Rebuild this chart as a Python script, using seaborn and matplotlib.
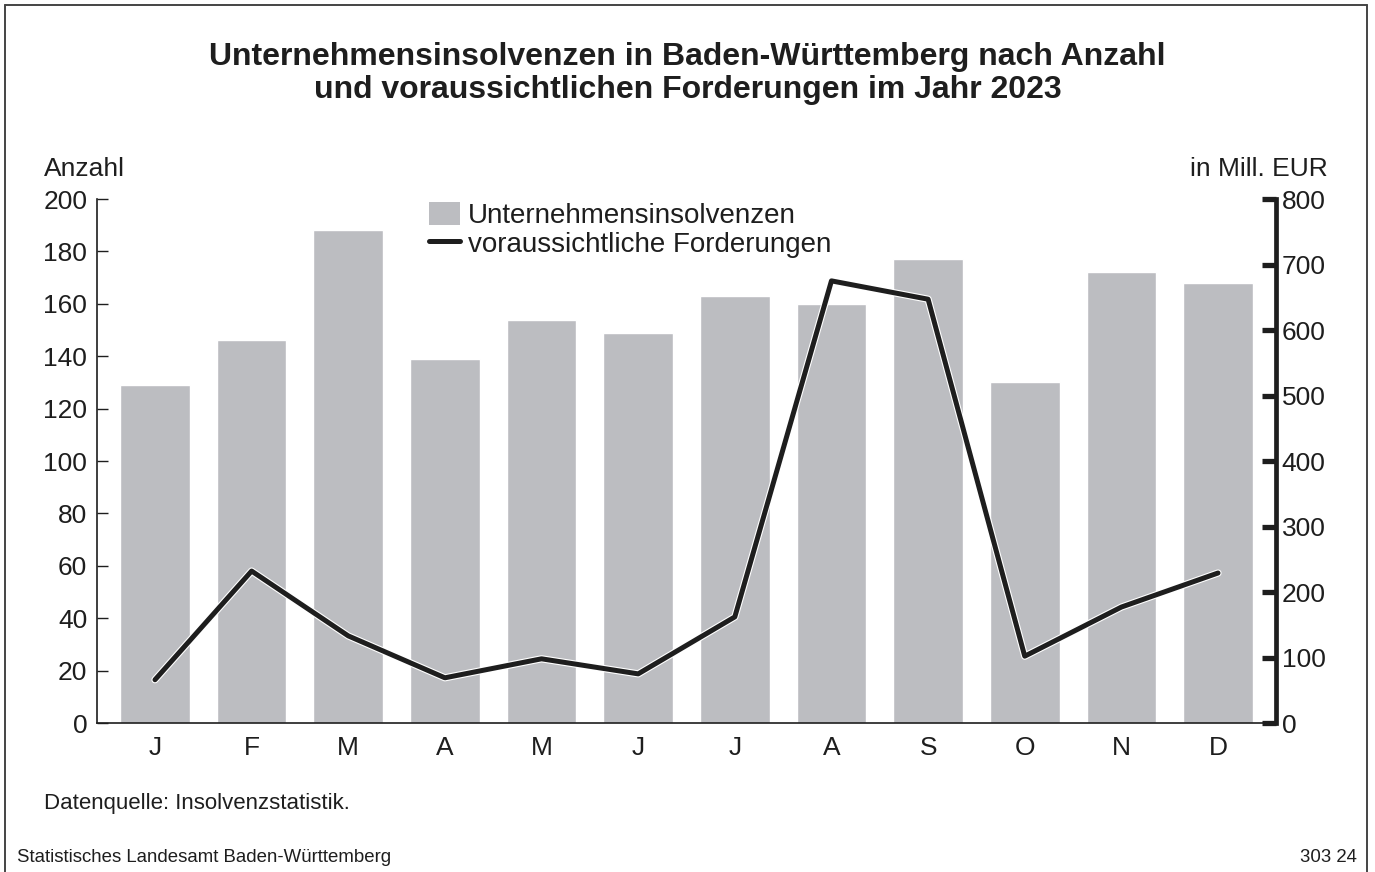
"""Unternehmensinsolvenzen in Baden-Württemberg 2023: Anzahl (Balken) und
voraussichtliche Forderungen (Linie, rechte Achse). Writes out.png.
"""

import matplotlib

matplotlib.use('Agg')
import matplotlib.patheffects as pe
import matplotlib.pyplot as plt
import numpy as np
import pandas as pd
import seaborn as sns
from matplotlib.lines import Line2D
from matplotlib.patches import Patch

MONTHS = ['J', 'F', 'M', 'A', 'M', 'J', 'J', 'A', 'S', 'O', 'N', 'D']
INSOLVENZEN = [129, 146, 188, 139, 154, 149, 163, 160, 177, 130, 172, 168]
FORDERUNGEN = [66, 232, 133, 69, 98, 75, 162, 675, 647, 102, 177, 229]
LEFT_TICKS = [0, 20, 40, 60, 80, 100, 120, 140, 160, 180, 200]
RIGHT_TICKS = [0, 100, 200, 300, 400, 500, 600, 700, 800]

BAR = '#bcbdc1'
INK = '#1e1e1e'
W, H = 1375, 872
FS = 19


def style() -> None:
    sns.set_theme(style='white', context='notebook')
    plt.rcParams.update(
        {
            'font.family': ['Liberation Sans', 'DejaVu Sans'],
            'text.color': INK,
            'axes.labelcolor': INK,
            'xtick.color': INK,
            'ytick.color': INK,
            'axes.edgecolor': INK,
            'figure.facecolor': 'white',
            'savefig.facecolor': 'white',
        }
    )


def main() -> None:
    style()
    df = pd.DataFrame(
        {'pos': np.arange(len(MONTHS)), 'anzahl': INSOLVENZEN, 'mio': FORDERUNGEN}
    )
    fig = plt.figure(figsize=(W / 100, H / 100), dpi=100)
    ax = fig.add_axes([97 / W, 1 - 723 / H, (1276 - 97) / W, (723 - 199) / H])

    sns.barplot(data=df, x='pos', y='anzahl', color=BAR, width=0.72,
                saturation=1, ax=ax, zorder=1)
    ax.set_xlim(-0.6, len(MONTHS) - 0.4)
    ax.set_ylim(0, 200)
    ax.set_yticks(LEFT_TICKS)
    ax.set_xticks(df['pos'])
    ax.set_xticklabels(MONTHS)
    ax.set_xlabel('')
    ax.set_ylabel('')
    ax.tick_params(axis='y', direction='in', length=8, width=1, labelsize=FS,
                   pad=7, left=True)
    ax.tick_params(axis='x', length=0, labelsize=FS, pad=9)
    for side in ('top', 'right'):
        ax.spines[side].set_visible(False)
    ax.spines['left'].set_linewidth(1.2)
    ax.spines['bottom'].set_linewidth(1.2)

    ax2 = ax.twinx()
    sns.lineplot(data=df, x='pos', y='mio', color=INK, linewidth=3.6, ax=ax2,
                 path_effects=[pe.Stroke(linewidth=5.2, foreground='white'),
                               pe.Normal()])
    ax2.set_ylim(0, 800)
    ax2.set_yticks(RIGHT_TICKS)
    ax2.set_ylabel('')
    ax2.set_xlabel('')
    ax2.tick_params(axis='y', direction='in', length=10, width=3.8,
                    labelsize=FS, pad=4, right=True)
    for side in ('top', 'left', 'bottom'):
        ax2.spines[side].set_visible(False)
    ax2.spines['right'].set_linewidth(3.4)

    handles = [
        Patch(facecolor=BAR, edgecolor='none', label='Unternehmensinsolvenzen'),
        Line2D([], [], color=INK, linewidth=3.6,
               label='voraussichtliche Forderungen'),
    ]
    ax2.legend(handles=handles, loc='upper left',
               bbox_to_anchor=((418 - 97) / (1276 - 97), 1 + 8 / 524),
               frameon=False, fontsize=20, handlelength=1.1, handleheight=0.9,
               handletextpad=0.3, labelspacing=0.05, borderaxespad=0.0)

    fig.text(44 / W, 1 - 169 / H, 'Anzahl', fontsize=FS, ha='left', va='center')
    fig.text(1328 / W, 1 - 169 / H, 'in Mill. EUR', fontsize=FS, ha='right',
             va='center')
    fig.text(0.5, 1 - 42 / H,
             'Unternehmensinsolvenzen in Baden-Württemberg nach Anzahl\n'
             'und voraussichtlichen Forderungen im Jahr 2023',
             fontsize=23, fontweight='bold', ha='center', va='top',
             linespacing=1.15)
    fig.text(44 / W, 1 - 803 / H, 'Datenquelle: Insolvenzstatistik.',
             fontsize=16, ha='left', va='center')
    fig.text(17 / W, 1 - 857 / H, 'Statistisches Landesamt Baden-Württemberg',
             fontsize=13.4, ha='left', va='center')
    fig.text(1357 / W, 1 - 857 / H, '303 24', fontsize=13.4, ha='right',
             va='center')

    # Rahmen: oben, links, rechts (unten offen)
    frame = dict(color='#444444', linewidth=1.4, transform=fig.transFigure)
    fig.add_artist(Line2D([5 / W, 5 / W], [0, 1 - 5 / H], **frame))
    fig.add_artist(Line2D([5 / W, 1367 / W], [1 - 5 / H, 1 - 5 / H], **frame))
    fig.add_artist(Line2D([1367 / W, 1367 / W], [0, 1 - 5 / H], **frame))

    fig.savefig('out.png', dpi=100)
    plt.close(fig)


if __name__ == '__main__':
    main()
